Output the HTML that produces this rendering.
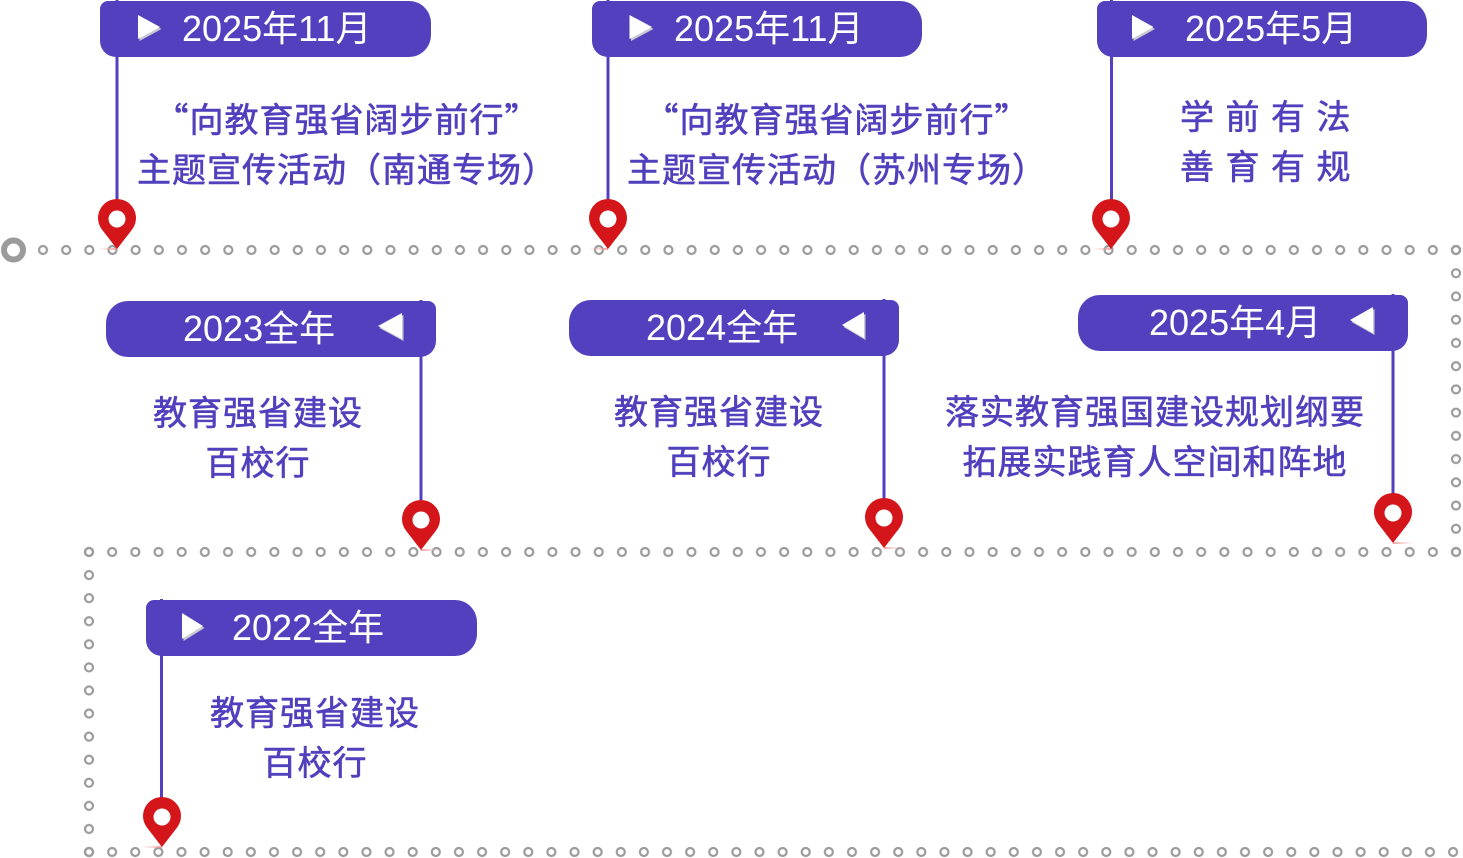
<!DOCTYPE html>
<html>
<head>
<meta charset="utf-8">
<style>
  html,body{margin:0;padding:0;background:#fff;}
  body{width:1463px;height:858px;position:relative;overflow:hidden;}
  svg.layer{position:absolute;left:0;top:0;}
  .b{position:absolute;background:#5340be;height:56px;z-index:2;}
  .r{border-radius:8px 22px 22px 16px;}
  .l{border-radius:22px 8px 16px 22px;}
  .bt{position:absolute;z-index:3;color:#fff;font-family:"Liberation Sans","Noto Sans CJK SC",sans-serif;font-size:36px;line-height:56px;height:56px;white-space:nowrap;}
  .t{position:absolute;z-index:3;width:700px;text-align:center;color:#5140bd;font-family:"Liberation Sans","Noto Sans CJK SC",sans-serif;font-size:34px;line-height:50px;font-weight:400;-webkit-text-stroke:0.6px #5140bd;letter-spacing:1px;white-space:nowrap;}
  .q{font-family:"Noto Sans CJK SC",sans-serif;}
</style>
</head>
<body>

<svg class="layer" width="1463" height="858" viewBox="0 0 1463 858" style="z-index:1">
  <defs>
    <pattern id="p1" patternUnits="userSpaceOnUse" x="31.418" y="240" width="23.164" height="20">
      <circle cx="11.582" cy="10" r="4" fill="none" stroke="#9b9b9b" stroke-width="2.2"/>
    </pattern>
    <pattern id="p2" patternUnits="userSpaceOnUse" x="77.415" y="542" width="23.17" height="20">
      <circle cx="11.585" cy="10" r="4" fill="none" stroke="#9b9b9b" stroke-width="2.2"/>
    </pattern>
    <pattern id="p3" patternUnits="userSpaceOnUse" x="77.44" y="842" width="23.12" height="20">
      <circle cx="11.56" cy="10" r="4" fill="none" stroke="#9b9b9b" stroke-width="2.2"/>
    </pattern>
    <pattern id="pv1" patternUnits="userSpaceOnUse" x="1446" y="238.385" width="20" height="23.23">
      <circle cx="10" cy="11.615" r="4" fill="none" stroke="#9b9b9b" stroke-width="2.2"/>
    </pattern>
    <pattern id="pv2" patternUnits="userSpaceOnUse" x="79" y="540.46" width="20" height="23.08">
      <circle cx="10" cy="11.54" r="4" fill="none" stroke="#9b9b9b" stroke-width="2.2"/>
    </pattern>
    <linearGradient id="gl" x1="0" x2="1" y1="0" y2="0">
      <stop offset="0" stop-color="#f7c9c9" stop-opacity="0"/>
      <stop offset="1" stop-color="#f08a8a" stop-opacity="0.8"/>
    </linearGradient>
    <linearGradient id="gr" x1="0" x2="1" y1="0" y2="0">
      <stop offset="0" stop-color="#f08a8a" stop-opacity="0.8"/>
      <stop offset="1" stop-color="#f7c9c9" stop-opacity="0"/>
    </linearGradient>
    <g id="pin">
      <path d="M20,50 L5,30.6 A19,19 0 1 1 35,30.6 Z" fill="#d4161b"/>
      <circle cx="20" cy="20" r="8.5" fill="#fff"/>
    </g>
  </defs>

  <!-- dotted paths -->
  <rect x="31.418" y="240" width="1436.2" height="20" fill="url(#p1)"/>
  <rect x="77.415" y="542" width="1390.2" height="20" fill="url(#p2)"/>
  <rect x="77.44" y="842" width="1387.2" height="16" fill="url(#p3)"/>
  <rect x="1446" y="238.385" width="20" height="325.2" fill="url(#pv1)"/>
  <rect x="79" y="540.46" width="20" height="323.1" fill="url(#pv2)"/>
  <circle cx="13.5" cy="250" r="9.5" fill="none" stroke="#9b9b9b" stroke-width="6"/>

  <!-- vertical connectors -->
  <g stroke="#5340be" stroke-width="3">
    <line x1="117" y1="0" x2="117" y2="206"/>
    <line x1="608" y1="0" x2="608" y2="206"/>
    <line x1="1111.5" y1="0" x2="1111.5" y2="206"/>
    <line x1="421" y1="300" x2="421" y2="506"/>
    <line x1="884" y1="299" x2="884" y2="504"/>
    <line x1="1393" y1="294" x2="1393" y2="499"/>
    <line x1="161.5" y1="599" x2="161.5" y2="804"/>
  </g>

  <!-- pink tip shadows -->
  <rect x="97" y="248" width="20" height="2" fill="url(#gl)"/>
  <rect x="588" y="248" width="20" height="2" fill="url(#gl)"/>
  <rect x="1091" y="248" width="20" height="2" fill="url(#gl)"/>
  <rect x="421" y="549" width="20" height="2" fill="url(#gr)"/>
  <rect x="884" y="547" width="20" height="2" fill="url(#gr)"/>
  <rect x="1393" y="542" width="22" height="2" fill="url(#gr)"/>
  <rect x="140" y="846" width="22" height="2" fill="url(#gl)"/>

  <!-- pins -->
  <use href="#pin" x="97" y="199"/>
  <use href="#pin" x="588" y="199"/>
  <use href="#pin" x="1091" y="199"/>
  <use href="#pin" x="401" y="500"/>
  <use href="#pin" x="864" y="498"/>
  <use href="#pin" x="1373" y="493"/>
  <use href="#pin" x="142" y="797"/>
</svg>

<!-- banners -->
<div class="b r" style="left:100px;top:1px;width:331px;"></div>
<div class="b r" style="left:592px;top:1px;width:330px;"></div>
<div class="b r" style="left:1097px;top:1px;width:330px;"></div>
<div class="b l" style="left:106px;top:301px;width:330px;"></div>
<div class="b l" style="left:569px;top:300px;width:330px;"></div>
<div class="b l" style="left:1078px;top:295px;width:330px;"></div>
<div class="b r" style="left:146px;top:600px;width:331px;"></div>

<!-- banner labels -->
<div class="bt" style="left:182px;top:1px;">2025年11月</div>
<div class="bt" style="left:674px;top:1px;">2025年11月</div>
<div class="bt" style="left:1185px;top:1px;">2025年5月</div>
<div class="bt" style="left:183px;top:301px;">2023全年</div>
<div class="bt" style="left:646px;top:300px;">2024全年</div>
<div class="bt" style="left:1149px;top:295px;">2025年4月</div>
<div class="bt" style="left:232px;top:600px;">2022全年</div>

<!-- triangle icons -->
<svg class="layer" width="1463" height="858" viewBox="0 0 1463 858" style="z-index:4">
  <g fill="#c9c9d2">
    <polygon points="139.5,17 161.5,29 139.5,41"/>
    <polygon points="631,17 653.5,29 631,41"/>
    <polygon points="1133.5,17 1155,29 1133.5,41"/>
    <polygon points="403.5,315 379.5,328 403.5,341"/>
    <polygon points="865.5,314 843.5,327 865.5,340"/>
    <polygon points="1374.5,309 1351.5,322 1374.5,335"/>
    <polygon points="183.5,615 204.5,628 183.5,641"/>
  </g>
  <g fill="#ffffff">
    <polygon points="138,15 160,27 138,39"/>
    <polygon points="629.5,15 652,27 629.5,39"/>
    <polygon points="1132,15 1153.5,27 1132,39"/>
    <polygon points="402,313 378,326 402,339"/>
    <polygon points="864,312 842,325 864,338"/>
    <polygon points="1373,307 1350,320 1373,333"/>
    <polygon points="182,613 203,626 182,639"/>
  </g>
</svg>

<!-- body texts -->
<div class="t" style="left:-3px;top:93px;"><span class="q">“</span>向教育强省阔步前行<span class="q">”</span><br>主题宣传活动（南通专场）</div>
<div class="t" style="left:487px;top:93px;"><span class="q">“</span>向教育强省阔步前行<span class="q">”</span><br>主题宣传活动（苏州专场）</div>
<div class="t" style="left:921px;top:93px;letter-spacing:11.5px;">学前有法<br>善育有规</div>
<div class="t" style="left:-92px;top:389px;">教育强省建设<br>百校行</div>
<div class="t" style="left:369px;top:388px;">教育强省建设<br>百校行</div>
<div class="t" style="left:805px;top:388px;">落实教育强国建设规划纲要<br>拓展实践育人空间和阵地</div>
<div class="t" style="left:-35px;top:689px;">教育强省建设<br>百校行</div>

</body>
</html>
